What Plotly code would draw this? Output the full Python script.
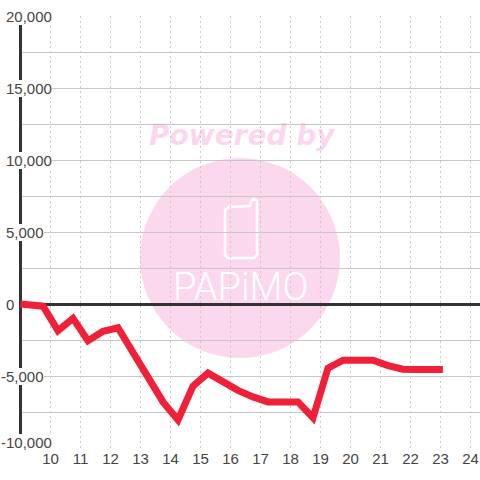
import plotly.graph_objects as go

hours = [9.0, 9.75, 10.25, 10.75, 11.25, 11.75, 12.25, 12.75, 13.25, 13.75, 14.25, 14.75, 15.25, 15.75,
         16.25, 16.75, 17.25, 17.75, 18.25, 18.75, 19.25, 19.75, 20.25, 20.75, 21.25, 21.75, 22.25, 22.75, 23.08]
values = [0, -150, -1850, -1000, -2550, -1900, -1650, -3350, -5050, -6800, -8050, -5700, -4800, -5450,
          -6000, -6450, -6800, -6800, -6800, -7900, -4450, -3900, -3900, -3900, -4280, -4530, -4550, -4550, -4550]
x_ticks = list(range(10, 25))
x_labels = [str(v) for v in x_ticks]
y_ticks = [20000, 15000, 10000, 5000, 0, -5000, -10000]
y_labels = ["20,000", "15,000", "10,000", "5,000", "0", "-5,000", "-10,000"]
y_grid = list(range(-10000, 20001, 2500))

W, H = 480, 480
L, R, T, B = 19, 0, 16, 32
FONT = "Liberation Sans"
TXT = "#444444"
DARK = "#333333"
PINK = "#fcd8ee"


def px(v):
    return (v - L) / (W - L - R)


def py(v):
    return 1 - (v - T) / (H - T - B)


def path(points):
    return "M " + " L ".join(f"{px(a):.5f},{py(b):.5f}" for a, b in points)


fig = go.Figure(go.Scatter(x=hours, y=values, mode="lines",
                           line=dict(color="#f02038", width=7), hoverinfo="skip"))

shapes = [
    dict(type="circle", xref="paper", yref="paper", x0=px(140), x1=px(340), y0=py(358), y1=py(158),
         fillcolor=PINK, line_width=0, layer="below"),
    dict(type="path", xref="paper", yref="paper", layer="below", line=dict(color="white", width=2.5),
         path=path([(229, 207), (250, 206), (251, 201), (254, 199), (257, 201), (257, 255), (254, 258),
                    (228, 258), (225, 255), (225, 210)]) + " Z"),
    dict(type="line", xref="x", yref="y", x0=9, x1=9, y0=-10000, y1=20000,
         line=dict(color=DARK, width=3), layer="between"),
]

annotations = []
for v, t in zip(y_ticks, y_labels):
    annotations.append(dict(
        xref="paper", yref="y", x=0, y=v, text=t, showarrow=False, xanchor="left", yanchor="middle",
        xshift=-L + (1 if v < 0 else 6), yshift=6 if v == -10000 else 0,
        bgcolor="white" if v != 0 else None, borderpad=0, borderwidth=0,
        font=dict(family=FONT, size=15, color=TXT)))
annotations.append(dict(
    xref="paper", yref="paper", x=px(242), y=py(135), text="<b><i>Powered by</i></b>", showarrow=False,
    xanchor="center", yanchor="middle",
    font=dict(family="DejaVu Sans", size=28, color="rgba(245,130,205,0.32)")))
annotations.append(dict(
    xref="paper", yref="paper", x=px(240), y=py(287), text="PAPiMO", showarrow=False,
    xanchor="center", yanchor="middle",
    font=dict(family="Roboto", size=38, weight=300, color="white")))

fig.update_layout(
    width=W, height=H, margin=dict(l=L, r=R, t=T, b=B, pad=0),
    paper_bgcolor="white", plot_bgcolor="white", showlegend=False,
    shapes=shapes, annotations=annotations,
    xaxis=dict(range=[8.95, 24.3167], tickvals=x_ticks, ticktext=x_labels, showgrid=True, gridcolor="#c8c8c8",
               griddash="2px,3px", gridwidth=1, zeroline=False, ticks="", showline=False,
               tickfont=dict(family=FONT, size=15, color=TXT)),
    yaxis=dict(range=[-10000, 20000], tickvals=y_grid, showticklabels=False, showgrid=True,
               gridcolor="#c8c8c8", gridwidth=1, zeroline=True, zerolinecolor=DARK, zerolinewidth=3,
               ticks="", showline=False),
)
fig.write_html("out.html", config=dict(displayModeBar=False),
               post_script="document.body.style.margin='0';document.documentElement.style.overflow='hidden';")
